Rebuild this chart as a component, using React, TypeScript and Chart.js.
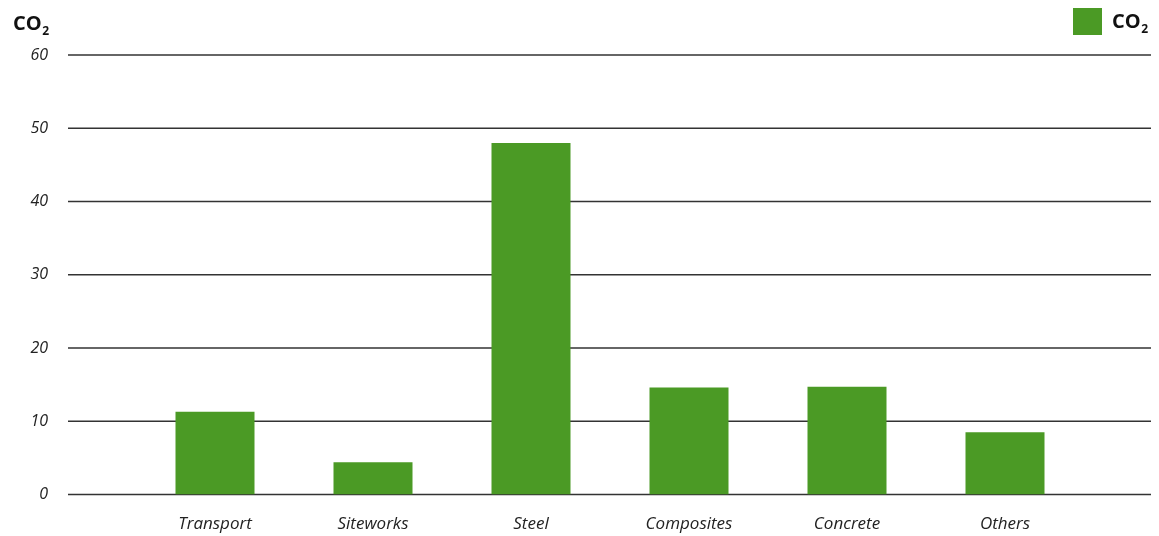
import React, { useEffect, useRef } from "react";
import { Chart, registerables } from "chart.js";

Chart.register(...registerables);

const categories = ["Transport", "Siteworks", "Steel", "Composites", "Concrete", "Others"];
const co2Values = [11.3, 4.4, 48, 14.6, 14.7, 8.5];
const yTicks = [0, 10, 20, 30, 40, 50, 60];
const seriesLabel = "CO₂";

const FONT = "'Open Sans', 'Noto Sans', sans-serif";
const GREEN = "#4b9a25";
const INK = "#222222";

export default function App() {
  const ref = useRef<HTMLCanvasElement>(null);

  useEffect(() => {
    document.documentElement.style.overflow = "hidden";
    const canvas = ref.current;
    if (!canvas) return;

    const drawCO2 = (ctx: CanvasRenderingContext2D, x: number, baseline: number) => {
      ctx.font = `bold 20px ${FONT}`;
      ctx.textAlign = "left";
      ctx.textBaseline = "alphabetic";
      ctx.fillStyle = "#111";
      ctx.fillText("CO", x, baseline);
      const w = ctx.measureText("CO").width;
      ctx.font = `bold 12px ${FONT}`;
      ctx.fillText("2", x + w + 0.5, baseline + 5);
    };

    const extGrid = {
      id: "extGrid",
      beforeDatasetsDraw(chart: any) {
        const { ctx, scales } = chart;
        const y = scales.y;
        ctx.save();
        ctx.strokeStyle = "#333333";
        ctx.lineWidth = 1.6;
        for (const v of yTicks) {
          const py = y.getPixelForValue(v);
          ctx.beginPath();
          ctx.moveTo(60, py);
          ctx.lineTo(1146, py);
          ctx.stroke();
        }
        ctx.restore();
      },
    };

    const headerPlugin = {
      id: "headerPlugin",
      afterDraw(chart: any) {
        const ctx = chart.ctx as CanvasRenderingContext2D;
        ctx.save();
        drawCO2(ctx, 5, 22);
        ctx.fillStyle = GREEN;
        ctx.fillRect(1065, 0, 29, 27);
        drawCO2(ctx, 1104, 20);
        ctx.restore();
      },
    };

    const chart = new Chart(canvas, {
      type: "bar",
      data: {
        labels: categories,
        datasets: [
          {
            label: seriesLabel,
            data: co2Values,
            backgroundColor: GREEN,
            borderWidth: 0,
            categoryPercentage: 1,
            barPercentage: 0.5,
          },
        ],
      },
      options: {
        responsive: false,
        animation: false,
        layout: { padding: { top: 47, right: 75, left: 0, bottom: 0 } },
        plugins: {
          legend: { display: false },
          tooltip: { enabled: false },
        },
        scales: {
          x: {
            grid: { display: false, drawTicks: false },
            border: { display: false },
            ticks: {
              font: { family: FONT, size: 17, style: "italic" },
              color: INK,
              padding: 19,
              maxRotation: 0,
            },
            afterFit: (s: any) => {
              s.height = 41.5;
            },
          },
          y: {
            min: 0,
            max: 60,
            afterBuildTicks: (s: any) => {
              s.ticks = yTicks.map((v) => ({ value: v }));
            },
            ticks: {
              font: { family: FONT, size: 16, style: "italic" },
              color: INK,
              padding: 88,
            },
            grid: { display: false, drawTicks: false },
            border: { display: false },
            afterFit: (s: any) => {
              s.width = 128;
              s.paddingTop = 0;
              s.paddingBottom = 0;
            },
          },
        },
      },
      plugins: [extGrid, headerPlugin],
    } as any);

    return () => chart.destroy();
  }, []);

  return (
    <div style={{ width: 1151, height: 528 }}>
      <canvas ref={ref} width={1151} height={528} style={{ display: "block", width: 1151, height: 528 }} />
    </div>
  );
}
